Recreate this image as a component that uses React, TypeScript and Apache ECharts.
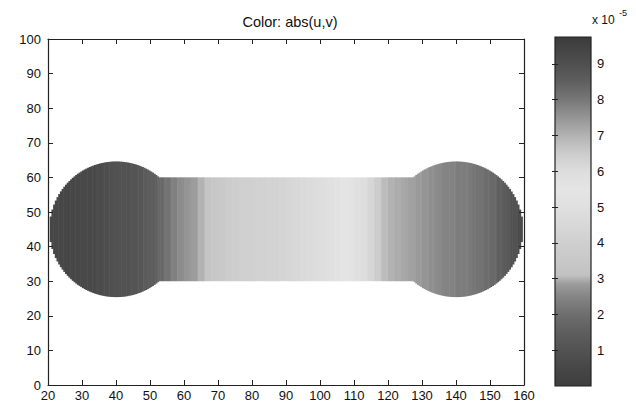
import React, { useEffect, useRef } from "react";
import * as echarts from "echarts";

// ---- axes ----
const X_MIN = 20;
const X_MAX = 160;
const X_INTERVAL = 10;
const Y_MIN = 0;
const Y_MAX = 100;
const Y_INTERVAL = 10;
const CBAR_MIN = 0;
const CBAR_MAX = 9.75;
const CBAR_TICKS = [1, 2, 3, 4, 5, 6, 7, 8, 9];

// ---- domain geometry (dumbbell) ----
const LEFT_BULB = { cx: 40, cy: 45, r: 19.6 };
const RIGHT_BULB = { cx: 140, cy: 45, r: 19.6 };
const CHANNEL = { x0: 40, x1: 140, y0: 30, y1: 60 };

// ---- |u,v| (x 1e-5) read along x, one value per 2 units (x = 20 .. 158) ----
const PROFILE_X = [
  20, 22, 24, 26, 28, 30, 32, 34, 36, 38, 40, 42, 44, 46, 48, 50, 52, 54, 56, 58,
  60, 62, 64, 66, 68, 70, 72, 74, 76, 78, 80, 82, 84, 86, 88, 90, 92, 94, 96, 98,
  100, 102, 104, 106, 108, 110, 112, 114, 116, 118, 120, 122, 124, 126, 128, 130,
  132, 134, 136, 138, 140, 142, 144, 146, 148, 150, 152, 154, 156, 158,
];
const PROFILE_V = [
  0.5, 0.5, 0.5, 0.5, 0.55, 0.6, 0.6, 0.7, 0.8, 0.9, 1.0, 1.0, 1.1, 1.2, 1.4, 1.5, 1.8, 2.1, 2.4, 2.6,
  2.75, 2.85, 3.0, 3.2, 3.4, 3.6, 3.8, 3.9, 4.0, 4.0, 4.1, 4.1, 4.2, 4.2, 4.3, 4.4, 4.5, 4.6, 4.7, 4.8,
  4.9, 5.0, 5.2, 5.4, 5.6, 5.8, 6.0, 6.2, 6.5, 6.8, 7.0, 7.1, 7.2, 7.3, 7.4, 7.5,
  7.6, 7.7, 7.8, 7.8, 7.9, 7.9, 8.0, 8.1, 8.2, 8.3, 8.5, 8.7, 8.9, 9.1,
];

// ---- colour map as seen on the colour bar (value -> grey level) ----
const CMAP_VALUES = [0, 0.5, 1, 1.5, 2, 2.5, 2.85, 3.1, 3.5, 4, 4.5, 5, 5.5, 6, 6.5, 7, 7.5, 8, 8.5, 9, 9.75];
const CMAP_GRAYS = [0x3e, 0x47, 0x52, 0x5e, 0x6e, 0x85, 0x9c, 0xc2, 0xc8, 0xcf, 0xd8, 0xe0, 0xe5, 0xdd, 0xcc, 0xb2, 0x95, 0x77, 0x5f, 0x4f, 0x3b];

const SUBCOLUMNS = 4; // columns drawn per profile step

function grayHex(g: number): string {
  const v = Math.max(0, Math.min(255, Math.round(g)));
  const h = v.toString(16).padStart(2, "0");
  return "#" + h + h + h;
}

function colorOf(v: number): string {
  if (v <= CMAP_VALUES[0]) return grayHex(CMAP_GRAYS[0]);
  for (let i = 1; i < CMAP_VALUES.length; i++) {
    if (v <= CMAP_VALUES[i]) {
      const t = (v - CMAP_VALUES[i - 1]) / (CMAP_VALUES[i] - CMAP_VALUES[i - 1]);
      return grayHex(CMAP_GRAYS[i - 1] + t * (CMAP_GRAYS[i] - CMAP_GRAYS[i - 1]));
    }
  }
  return grayHex(CMAP_GRAYS[CMAP_GRAYS.length - 1]);
}

function halfHeight(xc: number): number {
  let h = 0;
  for (const b of [LEFT_BULB, RIGHT_BULB]) {
    const dx = xc - b.cx;
    if (Math.abs(dx) < b.r) h = Math.max(h, Math.sqrt(b.r * b.r - dx * dx));
  }
  if (xc >= CHANNEL.x0 && xc <= CHANNEL.x1) h = Math.max(h, (CHANNEL.y1 - CHANNEL.y0) / 2);
  return h;
}

function buildColumns(): number[][] {
  const cols: number[][] = [];
  const cy = LEFT_BULB.cy;
  PROFILE_X.forEach((x, i) => {
    const step = (i + 1 < PROFILE_X.length ? PROFILE_X[i + 1] : X_MAX) - x;
    const w = step / SUBCOLUMNS;
    for (let s = 0; s < SUBCOLUMNS; s++) {
      const xs = x + s * w;
      const h = halfHeight(xs + w / 2);
      if (h > 0) cols.push([xs, cy - h, cy + h, PROFILE_V[i], xs + w]);
    }
  });
  return cols;
}

const FONT = "Arial";
const AX = "#222";

export default function App() {
  const ref = useRef<HTMLDivElement>(null);

  useEffect(() => {
    if (!ref.current) return;
    const chart = echarts.init(ref.current, null, { renderer: "svg" });

    const tickInside = { show: true, inside: true, length: 5, lineStyle: { color: AX, width: 1 } };
    const axLine = { show: true, onZero: false, lineStyle: { color: AX, width: 1.2 } };
    const lbl = { color: "#111", fontSize: 13, fontFamily: FONT };

    const stops = CMAP_VALUES.map((v, i) => ({
      offset: (v - CBAR_MIN) / (CBAR_MAX - CBAR_MIN),
      color: grayHex(CMAP_GRAYS[i]),
    }));

    chart.setOption({
      animation: false,
      backgroundColor: "#ffffff",
      grid: [
        { left: 48, top: 39, width: 476, height: 346 },
        { left: 555, top: 37, width: 36, height: 349 },
      ],
      xAxis: [
        {
          type: "value", gridIndex: 0, position: "bottom", min: X_MIN, max: X_MAX, interval: X_INTERVAL,
          axisLine: axLine, axisTick: tickInside, splitLine: { show: false },
          axisLabel: { ...lbl, margin: 4 }, z: 10,
        },
        {
          type: "value", gridIndex: 0, position: "top", min: X_MIN, max: X_MAX, interval: X_INTERVAL,
          axisLine: axLine, axisTick: tickInside, splitLine: { show: false },
          axisLabel: { show: false }, z: 10,
        },
        { type: "value", gridIndex: 1, min: 0, max: 1, show: false },
      ],
      yAxis: [
        {
          type: "value", gridIndex: 0, position: "left", min: Y_MIN, max: Y_MAX, interval: Y_INTERVAL,
          axisLine: axLine, axisTick: tickInside, splitLine: { show: false },
          axisLabel: { ...lbl, margin: 7 }, z: 10,
        },
        {
          type: "value", gridIndex: 0, position: "right", min: Y_MIN, max: Y_MAX, interval: Y_INTERVAL,
          axisLine: axLine, axisTick: tickInside, splitLine: { show: false },
          axisLabel: { show: false }, z: 10,
        },
        {
          type: "value", gridIndex: 1, position: "right", min: CBAR_MIN, max: CBAR_MAX, interval: 1,
          axisLine: { show: false }, splitLine: { show: false },
          axisTick: {
            show: true, inside: true, length: 3, lineStyle: { color: AX, width: 1 },
            customValues: CBAR_TICKS,
          },
          axisLabel: {
            ...lbl, margin: 6, customValues: CBAR_TICKS,
            formatter: (v: number) => (CBAR_TICKS.includes(v) ? String(v) : ""),
          },
          z: 10,
        },
        {
          type: "value", gridIndex: 1, position: "left", min: CBAR_MIN, max: CBAR_MAX, interval: 1,
          axisLine: { show: false }, splitLine: { show: false },
          axisTick: {
            show: true, inside: true, length: 3, lineStyle: { color: AX, width: 1 },
            customValues: CBAR_TICKS,
          },
          axisLabel: { show: false }, z: 10,
        },
      ],
      series: [
        {
          type: "custom",
          xAxisIndex: 0,
          yAxisIndex: 0,
          clip: true,
          dimensions: ["x", "ylo", "yhi", "abs", "x1"],
          encode: { x: [0, 4], y: [1, 2] },
          data: buildColumns(),
          renderItem: (_p: any, api: any) => {
            const p0 = api.coord([api.value(0), api.value(2)]);
            const p1 = api.coord([api.value(4), api.value(1)]);
            const c = colorOf(api.value(3));
            return {
              type: "rect",
              shape: { x: p0[0], y: p0[1], width: p1[0] - p0[0] + 0.6, height: p1[1] - p0[1] },
              style: { fill: c },
            };
          },
        },
        {
          type: "custom",
          xAxisIndex: 2,
          yAxisIndex: 2,
          data: [[0, CBAR_MIN, 1, CBAR_MAX]],
          encode: { x: [0, 2], y: [1, 3] },
          renderItem: (_p: any, api: any) => {
            const p0 = api.coord([api.value(0), api.value(3)]);
            const p1 = api.coord([api.value(2), api.value(1)]);
            return {
              type: "rect",
              shape: { x: p0[0], y: p0[1], width: p1[0] - p0[0], height: p1[1] - p0[1] },
              style: {
                fill: new echarts.graphic.LinearGradient(0, 1, 0, 0, stops),
                stroke: AX,
                lineWidth: 1.2,
              },
            };
          },
        },
      ],
      graphic: [
        {
          type: "text", x: 290, y: 22,
          style: {
            text: "Color: abs(u,v)", fill: "#111", fontSize: 14.5,
            fontFamily: FONT, align: "center", verticalAlign: "middle",
          },
        },
        {
          type: "text", x: 592, y: 20,
          style: {
            text: "x 10", fill: "#111", fontSize: 12, fontFamily: FONT,
            align: "left", verticalAlign: "middle",
          },
        },
        {
          type: "text", x: 619, y: 13,
          style: {
            text: "-5", fill: "#111", fontSize: 9, fontFamily: FONT,
            align: "left", verticalAlign: "middle",
          },
        },
      ],
    });

    return () => chart.dispose();
  }, []);

  return (
    <div
      ref={ref}
      style={{ position: "absolute", left: 0, top: 0, width: 636, height: 405, background: "#fff" }}
    />
  );
}
